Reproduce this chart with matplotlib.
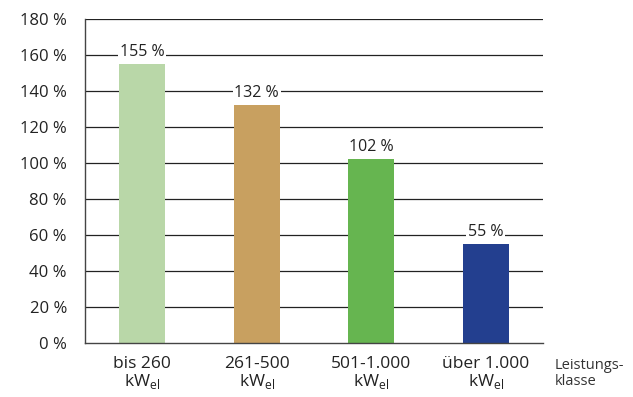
import numpy as np
import matplotlib.pyplot as plt

plt.rcParams['font.family'] = ['Open Sans', 'DejaVu Sans']
plt.rcParams['mathtext.fontset'] = 'custom'
plt.rcParams['mathtext.rm'] = 'Open Sans'

categories = ['bis 260', '261-500', '501-1.000', 'über 1.000']
values = [155, 132, 102, 55]
colors = ['#b9d7a8', '#c8a060', '#66b550', '#233f8f']
yticks = np.arange(0, 181, 20)

fig = plt.figure(figsize=(6.33, 3.97), dpi=100)
ax = fig.add_axes([0.1343, 0.136, 0.7235, 0.816])

x = np.arange(len(categories))
for y in yticks[1:]:
    ax.axhline(y, color='#222222', lw=0.9, zorder=1)
ax.bar(x, values, width=0.4, color=colors, zorder=2)

for xi, v in zip(x, values):
    ax.text(xi, v + 2.5, f'{v} %', ha='center', va='bottom', fontsize=11.5,
            color='#222222', zorder=3,
            bbox=dict(boxstyle='square,pad=0.12', fc='white', ec='none'))

ax.set_xlim(-0.5, 3.5)
ax.set_ylim(0, 180)
ax.set_yticks(yticks)
ax.set_yticklabels([f'{t} %' for t in yticks], fontsize=12, color='#222222')
ax.set_xticks(x)
ax.set_xticklabels([c + '\nkW$_\\mathregular{el}$' for c in categories],
                   fontsize=12.5, color='#222222', linespacing=1.0)
ax.tick_params(axis='y', length=0, pad=13)
ax.tick_params(axis='x', length=0, pad=9)

for s in ['top', 'right']:
    ax.spines[s].set_visible(False)
ax.spines['left'].set_color('#444444')
ax.spines['bottom'].set_color('#444444')
ax.spines['left'].set_linewidth(1.0)
ax.spines['bottom'].set_linewidth(1.0)

fig.text(555 / 633, 1 - 358 / 397, 'Leistungs-\nklasse', ha='left', va='top',
         fontsize=10.5, color='#333333', linespacing=1.05)

fig.savefig('out.png', dpi=100)
